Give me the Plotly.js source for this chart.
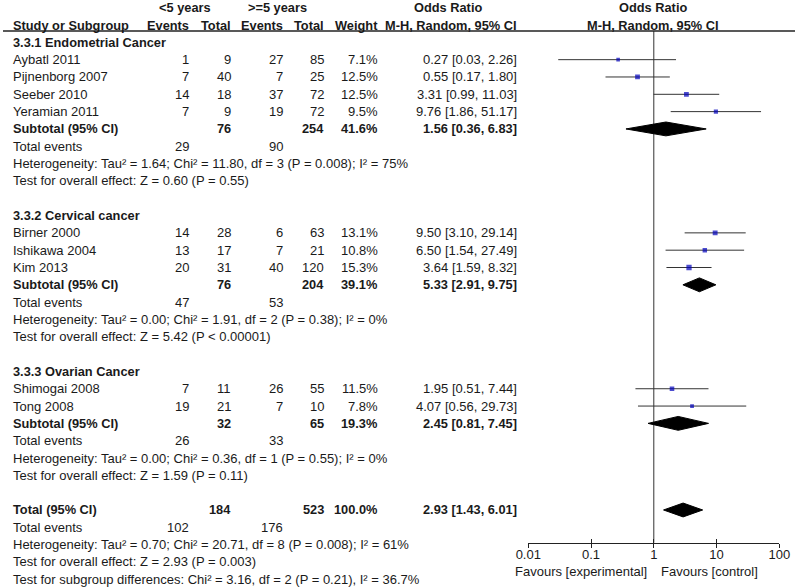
<!DOCTYPE html>
<html><head><meta charset="utf-8">
<script src="https://cdn.plot.ly/plotly-3.0.1.min.js"></script>
<style>html,body{margin:0;padding:0;background:#fff}</style>
</head><body><div id="chart" style="width:795px;height:588px"></div>
<script>
// ---------- data ----------
const groupNames = ['3.3.1 Endometrial Cancer', '3.3.2 Cervical cancer', '3.3.3 Ovarian Cancer'];
const studyNames = ['Aybatl 2011', 'Pijnenborg 2007', 'Seeber 2010', 'Yeramian 2011',
                    'Birner 2000', 'Ishikawa 2004', 'Kim 2013',
                    'Shimogai 2008', 'Tong 2008'];
const studyGroup = [0, 0, 0, 0, 1, 1, 1, 2, 2];
const events1 = [1, 7, 14, 7, 14, 13, 20, 7, 19];
const total1  = [9, 40, 18, 9, 28, 17, 31, 11, 21];
const events2 = [27, 7, 37, 19, 6, 7, 40, 26, 7];
const total2  = [85, 25, 72, 72, 63, 21, 120, 55, 10];
const weights = [7.1, 12.5, 12.5, 9.5, 13.1, 10.8, 15.3, 11.5, 7.8];
const oddsRatio = [0.27, 0.55, 3.31, 9.76, 9.50, 6.50, 3.64, 1.95, 4.07];
const ciLow  = [0.03, 0.17, 0.99, 1.86, 3.10, 1.54, 1.59, 0.51, 0.56];
const ciHigh = [2.26, 1.80, 11.03, 51.17, 29.14, 27.49, 8.32, 7.44, 29.73];

const subTotal1 = [76, 76, 32];
const subTotal2 = [254, 204, 65];
const subEvents1 = [29, 47, 26];
const subEvents2 = [90, 53, 33];
const subWeight = [41.6, 39.1, 19.3];
const subOR = [1.56, 5.33, 2.45];
const subLow = [0.36, 2.91, 0.81];
const subHigh = [6.83, 9.75, 7.45];
const subHeterogeneity = [
  'Heterogeneity: Tau² = 1.64; Chi² = 11.80, df = 3 (P = 0.008); I² = 75%',
  'Heterogeneity: Tau² = 0.00; Chi² = 1.91, df = 2 (P = 0.38); I² = 0%',
  'Heterogeneity: Tau² = 0.00; Chi² = 0.36, df = 1 (P = 0.55); I² = 0%'];
const subOverall = [
  'Test for overall effect: Z = 0.60 (P = 0.55)',
  'Test for overall effect: Z = 5.42 (P < 0.00001)',
  'Test for overall effect: Z = 1.59 (P = 0.11)'];

const totalN1 = 184, totalN2 = 523, totalWeight = 100.0;
const totalEvents1 = 102, totalEvents2 = 176;
const totalOR = 2.93, totalLow = 1.43, totalHigh = 6.01;
const totalLines = [
  'Heterogeneity: Tau² = 0.70; Chi² = 20.71, df = 8 (P = 0.008); I² = 61%',
  'Test for overall effect: Z = 2.93 (P = 0.003)',
  'Test for subgroup differences: Chi² = 3.16, df = 2 (P = 0.21), I² = 36.7%'];

const tickVals = [0.01, 0.1, 1, 10, 100];
const tickLabels = ['0.01', '0.1', '1', '10', '100'];
const favourLeft = 'Favours [experimental]';
const favourRight = 'Favours [control]';

// ---------- layout helpers ----------
const W = 795, H = 588;
const FONT = 'Liberation Sans, Arial, sans-serif';
const FS = 13;
const FSB = 12.8;
const TXT = '#1a1a1a';
const col = {study: 13, ev1: 189, tot1: 231, ev2: 283, tot2: 324, wt: 378, or: 517};
const ann = [];
function t(xpx, row, s, anchor, bold) {
  ann.push({xref: 'paper', x: xpx / W, yref: 'y', y: row, text: bold ? '<b>' + s + '</b>' : s,
    xanchor: anchor, yanchor: 'middle', showarrow: false, borderpad: 0, borderwidth: 0,
    font: {family: FONT, size: bold ? FSB : FS, color: TXT}});
}
const fmtCI = (o, l, h) => o.toFixed(2) + ' [' + l.toFixed(2) + ', ' + h.toFixed(2) + ']';

// headers
t(185, 0, '&lt;5 years', 'center', true);
t(277, 0, '&gt;=5 years', 'center', true);
t(448, 0, 'Odds Ratio', 'center', true);
t(653, 0, 'Odds Ratio', 'center', true);
t(col.study, 1, 'Study or Subgroup', 'left', true);
t(col.ev1, 1, 'Events', 'right', true);
t(col.tot1, 1, 'Total', 'right', true);
t(col.ev2, 1, 'Events', 'right', true);
t(col.tot2, 1, 'Total', 'right', true);
t(col.wt, 1, 'Weight', 'right', true);
t(col.or, 1, 'M-H, Random, 95% CI', 'right', true);
t(653, 1, 'M-H, Random, 95% CI', 'center', true);

const traces = [];
const ciX = [], ciY = [], ptX = [], ptY = [], ptS = [];
let r = 2;
groupNames.forEach((g, gi) => {
  t(col.study, r, g, 'left', true); r++;
  studyNames.forEach((s, i) => {
    if (studyGroup[i] !== gi) return;
    t(col.study, r, s, 'left');
    t(col.ev1, r, String(events1[i]), 'right');
    t(col.tot1, r, String(total1[i]), 'right');
    t(col.ev2, r, String(events2[i]), 'right');
    t(col.tot2, r, String(total2[i]), 'right');
    t(col.wt, r, weights[i].toFixed(1) + '%', 'right');
    t(col.or, r, fmtCI(oddsRatio[i], ciLow[i], ciHigh[i]), 'right');
    ciX.push(ciLow[i], ciHigh[i], null); ciY.push(r, r, null);
    ptX.push(oddsRatio[i]); ptY.push(r); ptS.push(1.35 * Math.sqrt(weights[i]));
    r++;
  });
  t(col.study, r, 'Subtotal (95% CI)', 'left', true);
  t(col.tot1, r, String(subTotal1[gi]), 'right', true);
  t(col.tot2, r, String(subTotal2[gi]), 'right', true);
  t(col.wt, r, subWeight[gi].toFixed(1) + '%', 'right', true);
  t(col.or, r, fmtCI(subOR[gi], subLow[gi], subHigh[gi]), 'right', true);
  traces.push({type: 'scatter', mode: 'lines', x: [subLow[gi], subOR[gi], subHigh[gi], subOR[gi], subLow[gi]],
    y: [r, r - 0.4, r, r + 0.4, r], fill: 'toself', fillcolor: '#000', line: {color: '#000', width: 1},
    hoverinfo: 'skip', showlegend: false});
  r++;
  t(col.study, r, 'Total events', 'left');
  t(col.ev1, r, String(subEvents1[gi]), 'right');
  t(col.ev2, r, String(subEvents2[gi]), 'right');
  r++;
  t(col.study, r, subHeterogeneity[gi], 'left'); r++;
  t(col.study, r, subOverall[gi], 'left'); r++;
  r++;
});
// overall
t(col.study, r, 'Total (95% CI)', 'left', true);
t(col.tot1, r, String(totalN1), 'right', true);
t(col.tot2, r, String(totalN2), 'right', true);
t(col.wt, r, totalWeight.toFixed(1) + '%', 'right', true);
t(col.or, r, fmtCI(totalOR, totalLow, totalHigh), 'right', true);
traces.push({type: 'scatter', mode: 'lines', x: [totalLow, totalOR, totalHigh, totalOR, totalLow],
  y: [r, r - 0.4, r, r + 0.4, r], fill: 'toself', fillcolor: '#000', line: {color: '#000', width: 1},
  hoverinfo: 'skip', showlegend: false});
r++;
t(col.study, r, 'Total events', 'left');
t(col.ev1, r, String(totalEvents1), 'right');
t(col.ev2, r, String(totalEvents2), 'right');
r++;
totalLines.forEach(s => { t(col.study, r, s, 'left'); r++; });

// axis geometry (row units): rows at 7.7 + 17.32*row px
const rowPx = 17.32, row0 = 7.7;
const headerRow = (31 - row0) / rowPx;
const axisPx = 542.7;
const axisRow = (axisPx - row0) / rowPx;

t(646.7, (571.5 - row0) / rowPx, favourLeft, 'right');
t(661, (571.5 - row0) / rowPx, favourRight, 'left');

// null line
traces.unshift({type: 'scatter', mode: 'lines', x: [1, 1], y: [headerRow, axisRow],
  line: {color: '#333', width: 1}, hoverinfo: 'skip', showlegend: false});
traces.push({type: 'scatter', mode: 'lines', x: ciX, y: ciY, line: {color: '#333', width: 1},
  connectgaps: false, hoverinfo: 'skip', showlegend: false});
traces.push({type: 'scatter', mode: 'markers', x: ptX, y: ptY,
  marker: {symbol: 'square', color: '#0000bb', size: ptS, line: {width: 0}},
  hoverinfo: 'skip', showlegend: false});
traces.push({type: 'scatter', mode: 'markers', x: [1], y: [axisRow], xaxis: 'x2',
  marker: {opacity: 0}, hoverinfo: 'skip', showlegend: false});

const xDomain = [528.3 / W, 779.3 / W];
const axPos = 1 - axisPx / H;
const layout = {
  width: W, height: H, margin: {l: 0, r: 0, t: 0, b: 0},
  paper_bgcolor: '#fff', plot_bgcolor: '#fff', showlegend: false,
  font: {family: FONT, size: FS, color: TXT},
  xaxis: {type: 'log', range: [-2, 2], domain: xDomain, anchor: 'free', position: axPos,
    showgrid: false, zeroline: false, showline: true, linecolor: '#222', linewidth: 1,
    ticks: 'inside', ticklen: 4, tickwidth: 1, tickcolor: '#222',
    tickvals: tickVals, ticktext: tickLabels, tickfont: {family: FONT, size: FS, color: TXT}, fixedrange: true},
  xaxis2: {type: 'log', range: [-2, 2], domain: xDomain, overlaying: 'x', anchor: 'free', position: axPos,
    showgrid: false, zeroline: false, showline: false,
    ticks: 'outside', ticklen: 4, tickwidth: 1, tickcolor: '#222',
    tickvals: tickVals, showticklabels: false, fixedrange: true},
  yaxis: {range: [(H - row0) / rowPx, -row0 / rowPx], domain: [0, 1], visible: false, fixedrange: true},
  shapes: [{type: 'line', xref: 'paper', yref: 'y', x0: 3 / W, x1: 1, y0: headerRow, y1: headerRow,
    line: {color: '#222', width: 1.3}}],
  annotations: ann
};
Plotly.newPlot('chart', traces, layout, {displayModeBar: false, staticPlot: true});
</script></body></html>
